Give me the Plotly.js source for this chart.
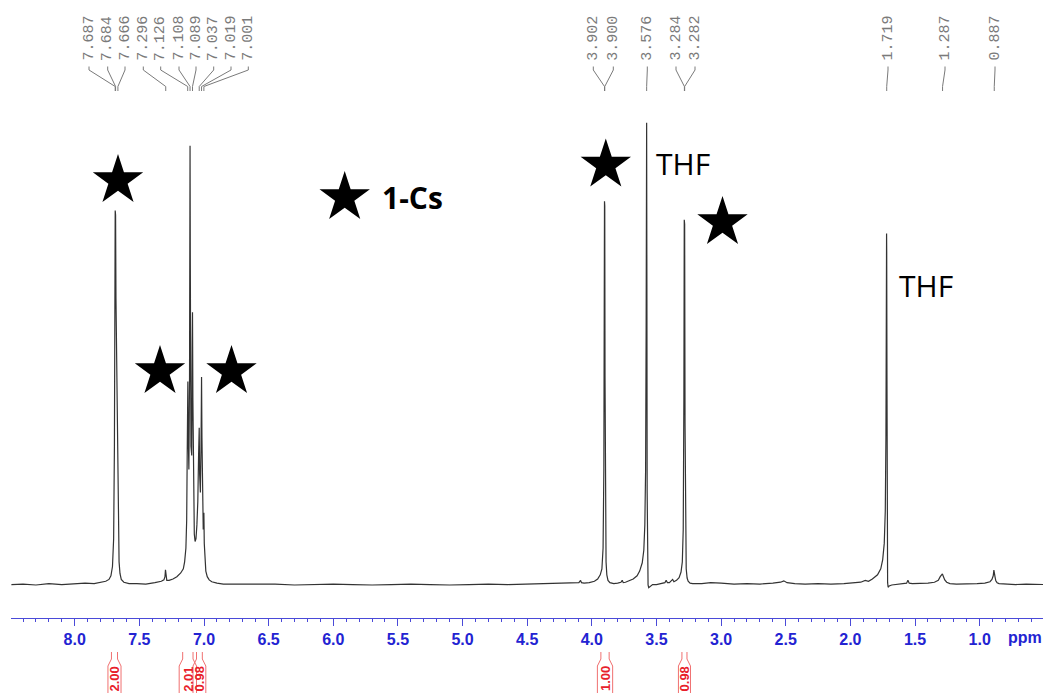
<!DOCTYPE html>
<html>
<head>
<meta charset="utf-8">
<script src="https://cdn.plot.ly/plotly-3.0.1.min.js"></script>
<style>html,body{margin:0;padding:0;background:#fff}#chart{width:1045px;height:693px}</style>
</head>
<body>
<div id="chart"></div>
<script>
// ---------------- DATA ----------------
// chemical shift (ppm) of traced spectrum points
const ppm = [
  8.49,8.40,8.30,8.20,8.10,8.00,7.92,7.85,7.80,7.76,7.735,7.72,7.708,7.699,7.693,7.689,7.687,7.6855,7.684,7.681,7.676,7.670,7.666,7.662,7.657,7.650,7.64,7.62,7.58,
  7.52,7.45,7.38,7.33,7.31,7.302,7.298,7.294,7.288,7.27,7.24,7.21,7.18,7.16,7.15,7.14,
  7.134,7.130,7.127,7.125,7.122,7.117,7.112,7.109,7.108,7.106,7.101,7.095,7.091,7.089,7.086,7.081,7.075,7.069,7.062,7.055,
  7.048,7.042,7.039,7.037,7.034,7.028,7.023,7.020,7.019,7.016,7.011,7.006,7.003,7.001,6.998,6.993,6.986,6.975,6.96,6.94,6.90,6.85,
  6.75,6.6,6.45,6.3,6.15,6.0,5.85,5.7,5.55,5.4,5.25,5.1,4.95,4.8,4.65,4.5,4.35,4.25,4.15,4.10,4.087,4.080,4.06,4.02,3.98,3.955,3.935,
  3.922,3.913,3.907,3.904,3.902,3.901,3.900,3.898,3.895,3.890,3.884,3.875,3.86,3.83,3.80,3.775,3.765,3.757,3.74,3.71,
  3.68,3.65,3.63,3.61,3.598,3.590,3.584,3.580,3.577,3.576,3.574,3.572,3.569,3.565,3.560,3.55,3.53,
  3.50,3.46,3.435,3.425,3.415,3.40,3.385,3.375,3.365,3.345,3.325,3.31,3.300,3.293,3.288,3.285,3.2835,3.282,3.279,3.275,3.270,3.263,3.255,3.24,3.22,
  3.15,3.08,3.0,2.9,2.8,2.7,2.6,2.54,2.515,2.49,2.43,2.35,2.25,2.15,2.05,1.98,1.92,1.885,1.875,1.86,
  1.83,1.79,1.765,1.75,1.738,1.730,1.725,1.722,1.720,1.719,1.717,1.715,1.712,1.708,1.70,1.68,1.65,1.60,
  1.565,1.555,1.545,1.52,1.46,1.40,1.35,1.32,1.305,1.295,1.288,1.28,1.27,1.255,1.23,1.18,1.10,1.02,0.96,0.92,
  0.905,0.895,0.890,0.887,0.884,0.880,0.875,0.865,0.85,0.80,0.72,0.64,0.56,0.50
];
// relative intensity (%) at each point
const intensity = [
  0.1,0.2,0.0,0.3,0.1,0.2,0.4,0.3,0.5,0.8,1.2,2.0,4.0,10,30,70,81,77,80,62,48,38,30,14,5,2.5,1.2,0.6,0.3,
  0.3,0.2,0.5,0.8,1.1,1.8,3.3,1.6,1.0,1.0,1.3,1.8,2.6,3.5,5,8,
  14,28,42,44,32,25,45,90,95,70,30,28,52,59,40,18,11,9.4,10,13,
  18,28,33,34,24,20,30,44,45,32,16,12,15,15.6,9,5,3,1.8,1.1,0.7,0.4,0.2,
  0.2,0.1,0.2,0.0,0.1,0.2,0.1,0.0,0.1,0.2,0.1,0.0,0.1,0.2,0.1,0.2,0.3,0.3,0.4,0.5,1.0,0.5,0.4,0.5,0.8,1.3,2.2,
  3.5,8,25,60,83,80,82,45,15,5,2.2,1.0,0.5,0.3,0.4,0.6,1.0,0.5,0.6,0.9,
  1.3,2.0,3.0,4.8,7.5,13,25,55,90,100,65,20,4,0.0,-0.6,-0.3,0.1,
  0.1,0.3,0.5,1.0,0.5,0.5,0.9,1.2,0.7,1.0,1.6,2.8,5,12,40,79,74,78,35,10,3.5,1.5,0.8,0.4,0.3,
  0.3,0.5,0.4,0.2,0.3,0.2,0.4,0.6,0.9,0.5,0.3,0.2,0.3,0.2,0.3,0.4,0.6,1.0,0.9,0.8,
  1.3,2.2,3.5,5.5,9,16,32,60,76,72,45,12,0.5,-0.5,-0.2,0.0,0.1,0.2,
  0.4,1.0,0.4,0.3,0.3,0.4,0.6,1.0,1.8,2.3,2.4,1.8,1.1,0.6,0.3,0.2,0.2,0.3,0.4,0.7,
  1.2,2.0,3.2,2.3,2.8,1.6,0.9,0.5,0.3,0.2,0.1,0.2,0.1,0.1
];
// picked peaks (ppm) and their printed labels
const peakPpm = [7.687,7.684,7.666,7.296,7.126,7.108,7.089,7.037,7.019,7.001,
                 3.902,3.900,3.576,3.284,3.282,1.719,1.287,0.887];
const peakText = ["7.687","7.684","7.666","7.296","7.126","7.108","7.089","7.037","7.019","7.001",
                  "3.902","3.900","3.576","3.284","3.282","1.719","1.287","0.887"];
// integrals: region (ppm) and value
const integralFrom = [7.716, 7.165, 7.058, 3.930, 3.303];
const integralTo   = [7.669, 7.085, 7.013, 3.866, 3.264];
const integralText = ["2.00", "2.01", "0.98", "1.00", "0.98"];
// text labels on the spectrum
const noteText = ["1-Cs", "THF", "THF"];

// ---------------- LAYOUT HELPERS ----------------
const W = 1045, H = 693;
const M = {l: 11, r: 2, t: 100, b: 75};
const XR = [8.493, 0.51];
const YR = [-7.14, 104.9];
const plotW = W - M.l - M.r, plotH = H - M.t - M.b;
const px2x = p => (p - M.l) / plotW;              // pixel -> paper x
const py2y = p => (H - M.b - p) / plotH;          // pixel -> paper y
const ppm2x = v => (XR[0] - v) / (XR[0] - XR[1]); // ppm -> paper x

// label slot positions (pixels) for the peak labels
const labelSlotPx = [89,107.7,125,143.3,160.7,179,196,213.7,231,248.3,
                     593.3,613.3,647.3,676,695,888,945,995];

const annotations = [];
const shapes = [];
const grey = '#7a7a7a';

peakText.forEach((t, i) => {
  annotations.push({
    xref: 'paper', yref: 'paper', x: px2x(labelSlotPx[i]), y: py2y(38.5),
    text: t, textangle: -90, showarrow: false, xanchor: 'center', yanchor: 'middle',
    font: {family: 'Liberation Mono, DejaVu Sans Mono, monospace', size: 15, color: grey}
  });
  const lx = px2x(labelSlotPx[i]), pk = ppm2x(peakPpm[i]);
  shapes.push({
    type: 'path', xref: 'paper', yref: 'paper',
    path: `M${lx},${py2y(66.5)} L${lx},${py2y(70)} L${pk},${py2y(86.5)} L${pk},${py2y(91)}`,
    line: {color: grey, width: 1}
  });
});

// integrals
const red = '#e8202a';
integralText.forEach((t, i) => {
  const a = ppm2x(integralFrom[i]), b = ppm2x(integralTo[i]);
  const off = 3.5 / plotW;
  shapes.push({
    type: 'path', xref: 'paper', yref: 'paper',
    path: `M${a},${py2y(652)} L${a},${py2y(659)} L${a - off},${py2y(666)} L${a - off},${py2y(700)}` +
          ` M${b},${py2y(652)} L${b},${py2y(659)} L${b + off},${py2y(666)} L${b + off},${py2y(700)}`,
    line: {color: '#f07070', width: 1}
  });
  annotations.push({
    xref: 'paper', yref: 'paper', x: (a + b) / 2, y: py2y(679),
    text: '<b>' + t + '</b>', textangle: -90, showarrow: false, xanchor: 'center', yanchor: 'middle',
    font: {family: 'Liberation Sans, Arial, sans-serif', size: 13, color: red}
  });
});

// stars (bbox centres in pixels)
const starBoxPx = [[118,178],[160,369],[231.5,369],[344.7,195],[605.8,162.5],[722.5,220]];
const R = 26.5, r = R * 0.382;
starBoxPx.forEach(([cx, cyb]) => {
  const cy = cyb + 0.0955 * R;
  let d = '';
  for (let k = 0; k < 10; k++) {
    const ang = (-90 + k * 36) * Math.PI / 180;
    const rad = k % 2 === 0 ? R : r;
    const X = px2x(cx + rad * Math.cos(ang)), Y = py2y(cy + rad * Math.sin(ang));
    d += (k === 0 ? 'M' : 'L') + X + ',' + Y + ' ';
  }
  shapes.push({type: 'path', xref: 'paper', yref: 'paper', path: d + 'Z',
               fillcolor: '#000', line: {width: 0}});
});

// text notes
const notePx = [[412, 198], [682.5, 163], [925.8, 285.5]];
noteText.forEach((t, i) => {
  annotations.push({
    xref: 'paper', yref: 'paper', x: px2x(notePx[i][0]), y: py2y(notePx[i][1]),
    text: i === 0 ? '<b>' + t + '</b>' : t, showarrow: false, xanchor: 'center', yanchor: 'middle',
    font: {family: 'Open Sans, Noto Sans, sans-serif', size: i === 0 ? 30 : 30, color: '#000'}
  });
});

// ppm unit label
const blue = '#2323d2';
annotations.push({
  xref: 'paper', yref: 'paper', x: px2x(1024.5), y: py2y(637),
  text: '<b>ppm</b>', showarrow: false, xanchor: 'center', yanchor: 'middle',
  font: {family: 'Liberation Sans, Arial, sans-serif', size: 16, color: blue}
});

const trace = {
  x: ppm, y: intensity, type: 'scatter', mode: 'lines',
  line: {color: '#333333', width: 1.2}, hoverinfo: 'skip'
};

const layout = {
  width: W, height: H, margin: M,
  paper_bgcolor: '#fff', plot_bgcolor: '#fff', showlegend: false,
  xaxis: {
    range: XR, autorange: false, showgrid: false, zeroline: false, automargin: false,
    showline: true, linecolor: '#4a4ad8', linewidth: 1,
    ticks: 'outside', ticklen: 7, tickwidth: 1, tickcolor: '#4a4ad8',
    tick0: 0, dtick: 0.5, tickformat: '.1f',
    tickfont: {family: 'Liberation Sans, Arial, sans-serif', size: 16, color: blue, weight: 'bold'},
    minor: {dtick: 0.1, tick0: 0, ticks: 'outside', ticklen: 3, tickcolor: '#4a4ad8', showgrid: false}
  },
  yaxis: {range: YR, autorange: false, visible: false, showgrid: false, zeroline: false},
  annotations: annotations,
  shapes: shapes
};

Plotly.newPlot('chart', [trace], layout, {staticPlot: true, displayModeBar: false});
</script>
</body>
</html>
